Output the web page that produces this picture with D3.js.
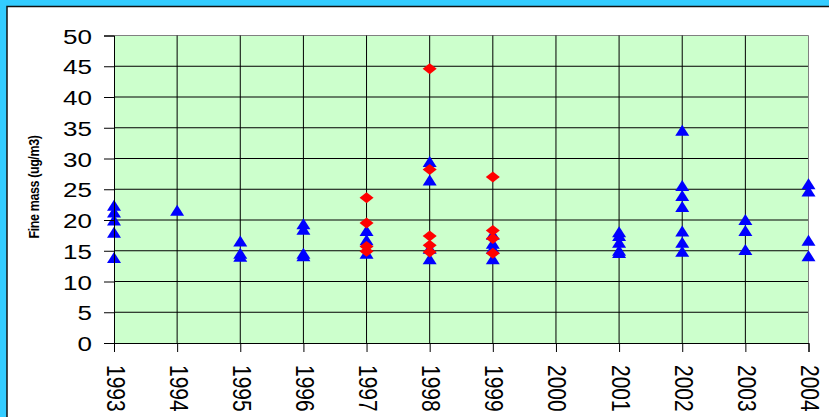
<!DOCTYPE html>
<html><head><meta charset="utf-8">
<script src="https://cdn.jsdelivr.net/npm/d3@7"></script>
<style>html,body{margin:0;padding:0;background:#33ccff;overflow:hidden}</style>
</head><body>
<script>
// ---- data ----
const years = [1993,1994,1995,1996,1997,1998,1999,2000,2001,2002,2003,2004];
const yTicks = [0,5,10,15,20,25,30,35,40,45,50];
// blue triangles series
const blueYear  = [1993,1993,1993,1993,1993, 1994, 1995,1995,1995, 1996,1996,1996,1996, 1997,1997,1997,
                   1998,1998,1998,1998, 1999,1999,1999,1999, 2001,2001,2001,2001,2001,
                   2002,2002,2002,2002,2002,2002,2002, 2003,2003,2003, 2004,2004,2004,2004];
const blueValue = [22.4,21.3,20.0,18.0,13.9, 21.6, 16.6,14.6,14.1, 19.4,18.5,14.6,14.2, 18.3,16.8,14.6,
                   29.5,26.5,15.4,13.7, 17.7,16.2,15.4,13.7, 18.1,17.5,16.4,15.1,14.7,
                   34.6,25.6,24.0,22.2,18.2,16.4,14.9, 20.1,18.3,15.2, 25.9,24.7,16.7,14.2];
// red diamonds series
const redYear  = [1997,1997,1997,1997, 1998,1998,1998,1998,1998, 1999,1999,1999,1999];
const redValue = [23.6,19.5,15.7,14.9, 44.6,28.2,17.4,15.9,14.8, 27.0,18.3,17.0,14.6];
const yLabel = "Fine mass (ug/m3)";

// ---- layout ----
const W = 829, H = 417;
const svg = d3.select("body").append("svg").attr("width", W).attr("height", H);
svg.append("rect").attr("x",0).attr("y",0).attr("width",W).attr("height",H).attr("fill","#33ccff");
svg.append("rect").attr("x",7).attr("y",6.5).attr("width",W).attr("height",H)
  .attr("fill","#fff").attr("stroke","#111").attr("stroke-width",1.5);

const pLeft = 114, pRight = 808.5, pTop = 35.5, pBottom = 343;
const x = d3.scalePoint().domain(years).range([pLeft, pRight]);
const y = d3.scaleLinear().domain([0,50]).range([pBottom, pTop]);

const g = svg.append("g");
g.append("rect").attr("x",pLeft).attr("y",pTop).attr("width",pRight-pLeft).attr("height",pBottom-pTop)
  .attr("fill","#ccffcc");

// grid
g.selectAll(".hg").data(yTicks.filter(d=>d>0)).enter().append("line")
  .attr("x1",pLeft).attr("x2",pRight).attr("y1",d=>y(d)).attr("y2",d=>y(d))
  .attr("stroke",d=>d===50?"#808080":"#000").attr("stroke-width",1);
g.selectAll(".vg").data(years.slice(1)).enter().append("line")
  .attr("x1",d=>x(d)).attr("x2",d=>x(d)).attr("y1",pTop).attr("y2",pBottom)
  .attr("stroke",d=>d===2004?"#808080":"#000").attr("stroke-width",1);

// axes
const yAxis = d3.axisLeft(y).tickValues(yTicks).tickSize(10).tickFormat(d3.format("d"));
const ya = svg.append("g").attr("transform",`translate(${pLeft},0)`).call(yAxis);
ya.select(".domain").attr("stroke","#000");
ya.selectAll(".tick line").attr("stroke","#000");
ya.selectAll(".tick text").attr("x",0).attr("dy",0)
  .attr("transform","translate(-22,7.5) scale(1.24,1)")
  .attr("font-family","Liberation Sans, Arial, sans-serif").attr("font-size",21).attr("fill","#000")
  .attr("text-anchor","end");

const xAxis = d3.axisBottom(x).tickValues(years).tickSize(9).tickFormat(d3.format("d"));
const xa = svg.append("g").attr("transform",`translate(0,${pBottom})`).call(xAxis);
xa.select(".domain").attr("stroke","#000");
xa.selectAll(".tick line").attr("stroke","#000");
xa.selectAll(".tick text").attr("x",0).attr("y",0).attr("dy",0)
  .attr("transform","translate(-8,22) scale(1.24,1) rotate(90)")
  .attr("font-family","Liberation Sans, Arial, sans-serif").attr("font-size",21).attr("fill","#000")
  .attr("text-anchor","start");

// y label
svg.append("text").text(yLabel)
  .attr("transform","translate(39,187) scale(1.15,1) rotate(-90)")
  .attr("text-anchor","middle").attr("font-family","Liberation Sans, Arial, sans-serif")
  .attr("font-weight","bold").attr("font-size",12.5).attr("letter-spacing",-0.4).attr("fill","#000");

// markers
const tri = "M0,-5.5L7,5.5L-7,5.5Z";
const dia = "M0,-5.5L7,0L0,5.5L-7,0Z";
g.selectAll(".b").data(blueValue).enter().append("path")
  .attr("d",tri).attr("fill","#0000ff")
  .attr("transform",(d,i)=>`translate(${x(blueYear[i])},${y(d)})`);
g.selectAll(".r").data(redValue).enter().append("path")
  .attr("d",dia).attr("fill","#ff0000")
  .attr("transform",(d,i)=>`translate(${x(redYear[i])},${y(d)})`);
</script>
</body></html>
